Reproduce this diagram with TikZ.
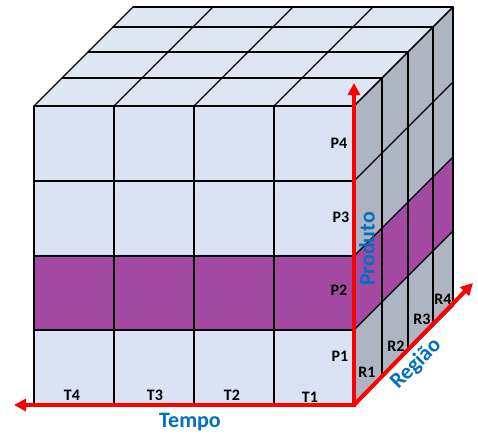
\documentclass[tikz,border=0pt]{standalone}
\usepackage{fontspec}
\setmainfont{Carlito}
\usetikzlibrary{arrows.meta}
\definecolor{frontc}{HTML}{DAE3F3}
\definecolor{topc}{HTML}{DEE6F3}
\definecolor{sidec}{HTML}{AEB5C2}
\definecolor{purp}{HTML}{A349A2}
\definecolor{axisblue}{HTML}{0070C0}
\begin{document}
\begin{tikzpicture}[x=1pt,y=-1pt,
  gridline/.style={line width=1.3pt, black, line cap=round},
  axisarrow/.style={red, line width=4pt, -{Triangle[length=12pt,width=12pt]}},
  lab/.style={font=\fontsize{16}{16}\selectfont\bfseries, inner sep=0pt},
  axlab/.style={font=\fontsize{22}{22}\selectfont\bfseries, text=axisblue, inner sep=0pt}]
\useasboundingbox (0,0) rectangle (478,439);
% faces
\fill[topc] (34,106) -- (354,106) -- (453,7) -- (133,7) -- cycle;
\fill[sidec] (354,106) -- (453,7) -- (453,306) -- (354,405) -- cycle;
\fill[frontc] (34,106) rectangle (354,405);
\fill[purp] (34,256) rectangle (354,330);
\fill[purp] (354,256) -- (453,157) -- (453,231) -- (354,330) -- cycle;
% front grid
\foreach \x in {34,114,194,274,354} \draw[gridline] (\x,106) -- (\x,405);
\foreach \y in {106,181,256,330,405} \draw[gridline] (34,\y) -- (354,\y);
% top grid
\foreach \d in {28,54,79,99} \draw[gridline] (34+\d,106-\d) -- (354+\d,106-\d);
\foreach \x in {34,114,194,274,354} \draw[gridline] (\x,106) -- (\x+99,7);
% right grid
\foreach \d in {28,54,79,99} \draw[gridline] (354+\d,106-\d) -- (354+\d,405-\d);
\foreach \y in {106,181,256,330,405} \draw[gridline] (354,\y) -- (453,\y-99);
% labels
\node[lab] (p4) at (339,143) {P4};
\node[lab] (p3) at (341,217) {P3};
\node[lab] (p2) at (339,290) {P2};
\node[lab] (p1) at (340,356) {P1};
\node[lab] (t4) at (72,395) {T4};
\node[lab] (t3) at (155,395) {T3};
\node[lab] (t2) at (232,395) {T2};
\node[lab] (t1) at (310,397) {T1};
\node[lab] (r1) at (367,372) {R1};
\node[lab] (r2) at (396,346) {R2};
\node[lab] (r3) at (422,319) {R3};
\node[lab] (r4) at (443,299) {R4};
% axes
\coordinate (O) at (354,405);
\coordinate (tEnd) at (14,405);
\coordinate (pEnd) at (354,83);
\coordinate (rEnd) at (473,283);
\draw[axisarrow, shorten <=-2pt] (O) -- (tEnd);
\draw[axisarrow, shorten <=-2pt] (O) -- (pEnd);
\draw[axisarrow, shorten <=-1pt] (O) -- (rEnd);
\node[axlab, anchor=base] (tempo) at (190,427) {Tempo};
\node[axlab, rotate=90] (produto) at (367,249) {Produto};
\node[axlab, rotate=45] (regiao) at (416,364) {Região};
\end{tikzpicture}
\end{document}
